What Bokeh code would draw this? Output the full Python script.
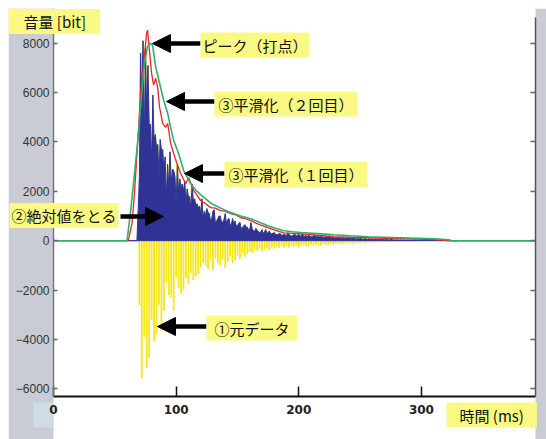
import numpy as np
from bokeh.plotting import figure
from bokeh.models import Range1d, LinearAxis, FixedTicker, Label, Arrow, NormalHead, BoxAnnotation
from bokeh.embed import file_html
from bokeh.resources import INLINE

# ---------------- data ----------------
t_start = 60  # ms, one sample per ms
raw = [
    0, 0, 0, 0, 0, 0, 0, 0, 0, 1200,
    -2600, 7600, -5560, 8100, -3900, 7800, -5160, 7100, -4750, 4700,
    -3200, 5900, -4060, 4300, -3780, 3900, -2600, 4100, -3650, 3700,
    -2840, 3400, -1700, 3100, -2200, 3600, -2300, 2900, -2840, 2600,
    -1500, 3100, -1900, 2500, -2150, 2300, -2000, 2400, -1500, 2100,
    -1750, 1800, -1300, 2300, -1600, 1700, -1450, 1500, -1350, 1400,
    -1100, 1700, -900, 1200, -1000, 1300, -1150, 1100, -800, 900,
    -1200, 1250, -700, 800, -900, 1000, -1000, 750, -750, 850,
    -1100, 700, -850, 900, -650, 650, -900, 700, -800, 600,
    -600, 700, -750, 500, -500, 600, -650, 550, -550, 450,
    -450, 730, -490, 400, -380, 500, -420, 380, -330, 350,
    -450, 300, -350, 450, -300, 320, -400, 280, -280, 300,
    -330, 260, -250, 240, -300, 280, -220, 220, -280, 230,
    -200, 320, -260, 200, -190, 220, -240, 250, -200, 200,
    -280, 180, -200, 300, -170, 190, -210, 160, -240, 170,
    -160, 150, -200, 240, -150, 160, -180, 140, -220, 150,
    -140, 130, -180, 120, -160, 200, -120, 110, -150, 100,
    -130, 120, -100, 140, -110, 90, -120, 100, -90, 110,
    -80, 90, -100, 80, -120, 100, -70, 80, -90, 70,
    -80, 90, -60, 60, -80, 70, -50, 80, -60, 60,
    -70, 50, -60, 70, -40, 50, -60, 40, -50, 50,
    -40, 40, -50, 30, -40, 60, -30, 40, -30, 30,
    -40, 20, -30, 40, -20, 30, -30, 20, -30, 20,
    -30, 30, -20, 20, -20, 30, -10, 20, -20, 20,
    -10, 10, -20, 20, -10, 10, -10, 20, -10, 10,
    -10, 10, -10, 10, -10, 10, -10, 10, -10, 10,
    -10, 0, 0, 0, 0, 0, 0, 0, 0, 0,
]
raw_t = t_start + np.arange(len(raw))
abs_vals = np.abs(np.array(raw))

smooth1_t = [0, 61, 64, 66, 68.6, 71, 73.5, 75.9, 76.7, 78.4, 80, 81.6, 83.3, 84.9, 86.5,
             89, 91.4, 93.1, 95.5, 98, 100.5, 103.7, 107.8, 110.2, 114.3, 117, 120, 124,
             128.2, 132, 136.3, 140, 144.5, 148, 152.7, 156, 160.8, 168, 174.7, 181, 187.8,
             195, 201.6, 215, 228.6, 242, 256.3, 270, 283.3, 297, 310.2, 321.6, 393]
smooth1_v = [0, 0, 700, 1900, 3940, 5970, 7190, 8400, 8530, 7600, 6780, 6300, 6580, 6210, 5400,
             4750, 4590, 4750, 3940, 3530, 3150, 2720, 2310, 2560, 2030, 1850, 1620, 1500,
             1340, 1320, 1220, 1200, 1100, 1060, 930, 900, 810, 650, 530, 420, 320,
             300, 280, 220, 160, 140, 120, 100, 80, 60, 40, 0, 0]

smooth2_t = [0, 60, 63, 66, 69, 71.5, 74, 76.5, 78.4, 80.8, 83.3, 86.5, 89.8, 93.1, 95.5, 98,
             102, 106.1, 111.8, 116, 120, 128.2, 136.3, 144.5, 152, 160.8, 168, 174.7, 181,
             187.8, 195, 201.6, 215, 228.6, 242, 256.3, 270, 283.3, 297, 310.2, 322.4, 325, 393]
smooth2_v = [0, 0, 1250, 2700, 4200, 5700, 7100, 7850, 8000, 7920, 7030, 6380, 5690, 5160, 4590, 4060,
             3530, 2840, 2310, 2050, 1870, 1520, 1320, 1140, 1010, 890, 750, 610, 500,
             400, 360, 330, 285, 240, 200, 160, 140, 120, 100, 80, 40, 0, 0]

x_ticks = [0, 100, 200, 300]
y_ticks = [-6000, -4000, -2000, 0, 2000, 4000, 6000, 8000]

# ---------------- geometry (figure pixels -> data) ----------------
X_MIN, X_MAX = 0, 393          # plotted time span
Y_MIN, Y_MAX = -6311, 9406     # plotted value span
PX_PER_MS = 1.2265
VAL_PER_PX = 40.51
LEFT_PX, ZERO_PY = 45, 232.2   # position of x=0 / y=0 inside the 538x431 figure


def dx(px):
    return (px - 8 - LEFT_PX) / PX_PER_MS


def dy(py):
    return (ZERO_PY - (py - 8)) * VAL_PER_PX


GREY = "#c9ccd4"
YEL = "#f9f983"
BLUE = "#303396"

p = figure(width=538, height=431, margin=(8, 0, 0, 8),
           x_range=Range1d(dx(8), dx(546)), y_range=Range1d(dy(439), dy(8)),
           output_backend="svg", toolbar_location=None,
           min_border_left=0, min_border_right=0, min_border_top=0, min_border_bottom=0,
           border_fill_color="white", background_fill_color="white",
           outline_line_color=None)
p.title.visible = False
p.grid.visible = False

# grey side strips and small box (background)
p.add_layout(BoxAnnotation(right=X_MIN, fill_color=GREY, fill_alpha=1, line_color=None, level="underlay"))
p.add_layout(BoxAnnotation(left=X_MAX, fill_color=GREY, fill_alpha=1, line_color=None, level="underlay"))
p.add_layout(BoxAnnotation(left=dx(33), right=X_MIN, top=dy(402), bottom=dy(427),
                           fill_color="#cddde3", fill_alpha=1, line_color=None, level="underlay"))

xa = p.xaxis[0]
xa.fixed_location = Y_MIN
xa.bounds = (X_MIN, X_MAX)
xa.ticker = FixedTicker(ticks=x_ticks)
xa.major_tick_in = 10
xa.major_tick_out = 0
xa.minor_tick_line_color = None
xa.axis_line_color = "#111111"
xa.axis_line_width = 2
xa.major_tick_line_color = "#111111"
xa.major_tick_line_width = 1.5
xa.major_label_standoff = 9
xa.major_label_text_font = "DejaVu Sans"
xa.major_label_text_font_style = "bold"
xa.major_label_text_font_size = "12px"
xa.major_label_text_color = "#222222"

ya = p.yaxis[0]
ya.fixed_location = X_MIN
ya.bounds = (Y_MIN, Y_MAX)
ya.ticker = FixedTicker(ticks=y_ticks)
ya.major_tick_in = 4
ya.major_tick_out = 0
ya.minor_tick_line_color = None
ya.axis_line_color = "#777777"
ya.axis_line_width = 1.5
ya.major_tick_line_color = "#666666"
ya.major_tick_line_width = 1.5
ya.major_label_standoff = 4
ya.major_label_text_font = "Liberation Sans"
ya.major_label_text_font_size = "12px"
ya.major_label_text_color = "#333333"

ra = LinearAxis(fixed_location=X_MAX, bounds=(Y_MIN, dy(17)),
                ticker=FixedTicker(ticks=y_ticks),
                major_label_overrides={t: "" for t in y_ticks},
                major_label_standoff=0, major_tick_in=5, major_tick_out=0,
                minor_tick_line_color=None, axis_line_color="#555555", axis_line_width=1.5,
                major_tick_line_color="#666666", major_tick_line_width=1.5)
p.add_layout(ra, "right")

# ① raw data (yellow), ② absolute value (blue)
p.vbar(x=raw_t, top=raw, bottom=0, width=1.5, fill_color="#f5e61e", line_color=None)
p.varea(x=raw_t, y1=0, y2=abs_vals, fill_color=BLUE)
p.line(x=raw_t, y=abs_vals, line_color=BLUE, line_width=1)
p.line(x=[X_MIN, X_MAX], y=[0, 0], line_color=BLUE, line_width=1)
# ③ smoothing once (red), twice (green)
p.line(x=smooth1_t, y=smooth1_v, line_color="#e8262b", line_width=1.3)
p.line(x=smooth2_t, y=smooth2_v, line_color="#2fb06a", line_width=1.6)

# ---------------- annotations ----------------
arrows = [  # (tail_px, tip_px, y_px)
    (200, 152, 43),
    (214, 166, 101),
    (224, 184, 173),
    (120, 163, 216),
    (206, 157, 326),
]
for tail, tip, yy in arrows:
    p.add_layout(Arrow(end=NormalHead(size=18, fill_color="black", line_color="black"),
                       x_start=dx(tail), y_start=dy(yy), x_end=dx(tip), y_end=dy(yy),
                       line_width=4.5, line_color="black"))

labels = [  # (text, left_px, center_py, pad_left, pad_right)
    ("音量 [bit]", 8, 21, 15, 14),
    ("ピーク（打点）", 200, 44.5, 2, 2),
    ("③平滑化（２回目）", 214, 103.5, 4, 4),
    ("③平滑化（１回目）", 224, 174, 4, 4),
    ("②絶対値をとる", 9, 215, 2, 2),
    ("①元データ", 206, 327.5, 8, 8),
    ("時間 (ms)", 446, 414.5, 13, 13),
]
for txt, lx, cy, pl, pr in labels:
    p.add_layout(Label(x=dx(lx), y=dy(cy), text=txt, text_align="left", text_baseline="middle",
                       text_font="Noto Sans CJK JP", text_font_size="15px", text_color="#111111",
                       background_fill_color=YEL,
                       padding=dict(left=pl, right=pr, top=2, bottom=2)))

open("out.html", "w").write(file_html(p, INLINE))
